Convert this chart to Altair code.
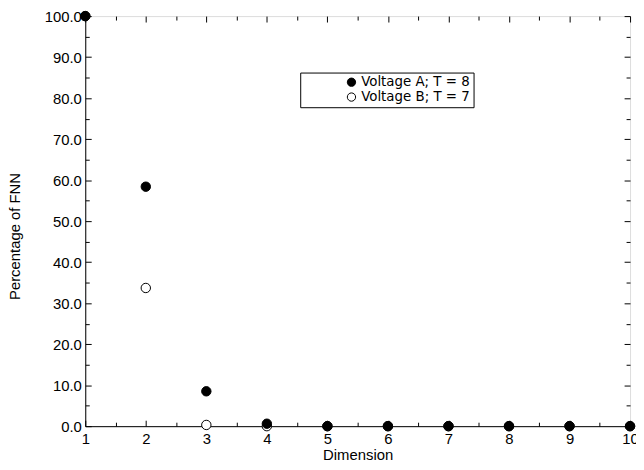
import altair as alt
import pandas as pd

dims = [1, 2, 3, 4, 5, 6, 7, 8, 9, 10]
voltage_a = [100.0, 58.4, 8.5, 0.6, 0.0, 0.0, 0.0, 0.0, 0.0, 0.0]
voltage_b = [100.0, 33.7, 0.3, 0.0, 0.0, 0.0, 0.0, 0.0, 0.0, 0.0]
label_a = "Voltage A; T = 8"
label_b = "Voltage B; T = 7"

x_major = [1, 2, 3, 4, 5, 6, 7, 8, 9, 10]
x_minor = [1.5, 2.5, 3.5, 4.5, 5.5, 6.5, 7.5, 8.5, 9.5]
y_major = [0, 10, 20, 30, 40, 50, 60, 70, 80, 90, 100]
y_minor = [5, 15, 25, 35, 45, 55, 65, 75, 85, 95]

# B first so A is drawn on top
rows = [{"dim": d, "pct": v, "series": label_b} for d, v in zip(dims, voltage_b)]
rows += [{"dim": d, "pct": v, "series": label_a} for d, v in zip(dims, voltage_a)]
df = pd.DataFrame(rows)

FONT = "DejaVu Sans"
xs = alt.Scale(domain=[1, 10], nice=False, zero=False)
ys = alt.Scale(domain=[0, 100], nice=False, zero=False)

points = alt.Chart(df).mark_point(
    shape="circle", filled=True, size=90, stroke="black", strokeWidth=1, opacity=1
).encode(
    x=alt.X("dim:Q", scale=xs, axis=alt.Axis(
        orient="bottom", values=x_major, format="d", tickSize=0, labelPadding=5,
        labelFlush=False, labelOverlap=False, grid=False, domain=True,
        domainColor="black", title="Dimension", titlePadding=2,
        labelFontSize=15, titleFontSize=15, titleFontWeight="normal")),
    y=alt.Y("pct:Q", scale=ys, axis=alt.Axis(
        orient="left", values=y_major, format=".1f", tickSize=0, labelPadding=4,
        labelOverlap=False, labelFlush=False, grid=False, domain=True,
        domainColor="black", title="Percentage of FNN", titleX=-63, titleY=222,
        labelFontSize=15, titleFontSize=15, titleFontWeight="normal")),
    fill=alt.Fill("series:N",
                  scale=alt.Scale(domain=[label_a, label_b], range=["black", "white"]),
                  legend=alt.Legend(
                      orient="none", legendX=217, legendY=57, title=None,
                      strokeColor="black", padding=3, rowPadding=0,
                      symbolType="circle", symbolSize=70, symbolStrokeColor="black",
                      symbolStrokeWidth=1, symbolOffset=42, labelFontSize=13.5,
                      labelFont=FONT, labelOffset=3, fillColor="white")),
)


def tick_layer(xo, yo, xvals, yvals, size):
    return alt.Chart(df).mark_point(opacity=0).encode(
        x=alt.X("dim:Q", scale=xs, axis=alt.Axis(
            orient=xo, values=xvals, tickSize=size, offset=-size, labels=False,
            domain=False, grid=False, ticks=True, tickColor="black", title=None)),
        y=alt.Y("pct:Q", scale=ys, axis=alt.Axis(
            orient=yo, values=yvals, tickSize=size, offset=-size, labels=False,
            domain=False, grid=False, ticks=True, tickColor="black", title=None)),
    )


chart = alt.layer(
    tick_layer("bottom", "left", x_major, y_major, 6),
    tick_layer("bottom", "left", x_minor, y_minor, 4),
    tick_layer("top", "right", x_major, y_major, 6),
    tick_layer("top", "right", x_minor, y_minor, 4),
    points,
).resolve_scale(x="independent", y="independent").properties(
    width=550, height=414,
    autosize=alt.AutoSizeParams(type="none"),
    padding={"left": 78, "top": 6, "right": 6, "bottom": 34},
).configure_view(stroke="black", strokeWidth=1).configure_axis(
    labelFont=FONT, titleFont=FONT, labelColor="black", titleColor="black"
).configure(background="white")

chart.save("out.html", embed_options={"renderer": "svg", "actions": False})
